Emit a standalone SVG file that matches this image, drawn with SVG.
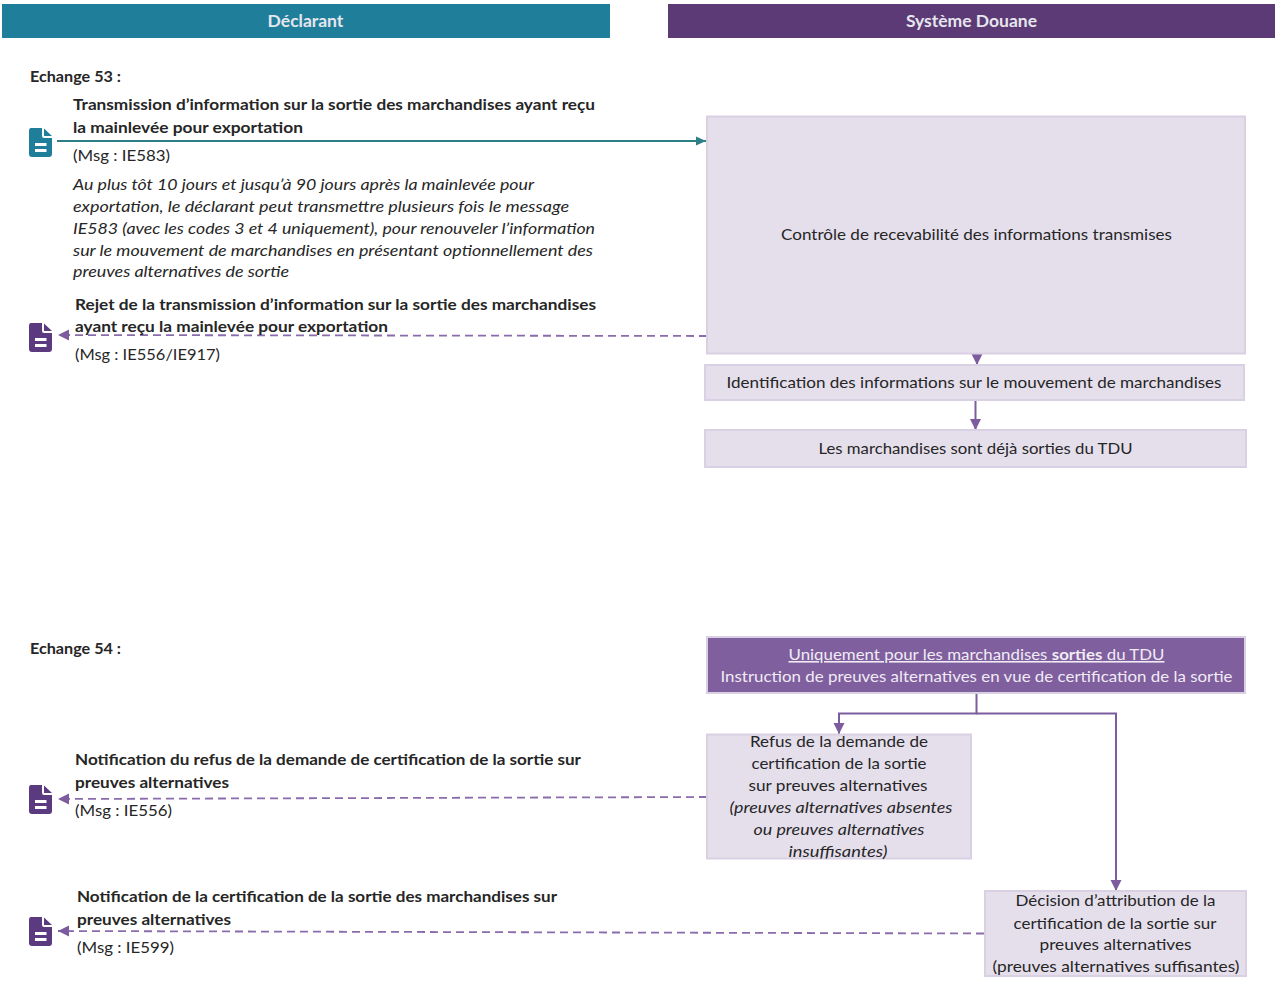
<svg xmlns="http://www.w3.org/2000/svg" width="1275" height="982" viewBox="0 0 1275 982">
<style>
text{font-family:Lato,"Open Sans","Liberation Sans",sans-serif;font-size:16px;fill:#262626}
.b{font-weight:700}
.i{font-style:italic}
.m{text-anchor:middle}
.h{font-size:17.500px;font-weight:700;fill:#e6e6ee;text-anchor:middle}
.w{fill:#f0ebf5;text-anchor:middle}
.box{fill:#e5dfec;stroke:#d9d0e4;stroke-width:2}
.sol{fill:none;stroke:#7c5c9e;stroke-width:2}
.dash{fill:none;stroke:#8a6bab;stroke-width:1.800;stroke-dasharray:8 5}
</style>
<defs>
<marker id="ap" markerUnits="userSpaceOnUse" markerWidth="14" markerHeight="14" refX="12" refY="7" orient="auto"><path d="M1 1.500L12 7L1 12.500Z" fill="#7c5c9e"/></marker>
<marker id="at" markerUnits="userSpaceOnUse" markerWidth="12" markerHeight="12" refX="11" refY="6" orient="auto"><path d="M1 1.500L11 6L1 10.500Z" fill="#2f7f86"/></marker>
<path id="doc" d="M2 0H13V8Q13 10 15 10H23V26Q23 29 20 29H3Q0 29 0 26V3Q0 0 2 0ZM6 15V18H17.500V15ZM6 21V24H17.500V21ZM15 0.500L23 8H15Z" fill-rule="evenodd"/>
</defs>
<g id="connectors">
<path d="M57 141H706" fill="none" stroke="#2f7f86" stroke-width="1.800" marker-end="url(#at)"/>
<path class="dash" d="M707 336L58 335" marker-end="url(#ap)"/>
<path class="sol" d="M977 354V365" marker-end="url(#ap)"/>
<path class="sol" d="M975.500 400V430" marker-end="url(#ap)"/>
<path class="sol" d="M976.500 693V713.500H839V734" marker-end="url(#ap)"/>
<path class="sol" d="M976.500 713.500H1116V891" marker-end="url(#ap)"/>
<path class="dash" d="M707 797L58 799" marker-end="url(#ap)"/>
<path class="dash" d="M984 933.500L58 931" marker-end="url(#ap)"/>
</g>
<g id="header-declarant"><rect x="2" y="4" width="608" height="34" fill="#1f7f9b"/><text class="h" x="305.500" y="26.500">Déclarant</text></g>
<g id="header-douane"><rect x="668" y="4" width="607" height="34" fill="#5b3a75"/><text class="h" x="971.500" y="26.500">Système Douane</text></g>
<g id="echange53">
<text class="b" x="30" y="82" textLength="91" lengthAdjust="spacingAndGlyphs">Echange 53 :</text>
</g>
<g id="msg-ie583">
<use href="#doc" x="29" y="128" fill="#1f7f9b"/>
<text class="b" x="73" y="110" textLength="522" lengthAdjust="spacingAndGlyphs">Transmission d’information sur la sortie des marchandises ayant reçu</text>
<text class="b" x="73" y="133" textLength="230" lengthAdjust="spacingAndGlyphs">la mainlevée pour exportation</text>
<text x="73" y="161" textLength="97" lengthAdjust="spacingAndGlyphs">(Msg : IE583)</text>
<text class="i" x="73" y="190" textLength="461" lengthAdjust="spacingAndGlyphs">Au plus tôt 10 jours et jusqu’à 90 jours après la mainlevée pour</text>
<text class="i" x="73" y="212" textLength="496" lengthAdjust="spacingAndGlyphs">exportation, le déclarant peut transmettre plusieurs fois le message</text>
<text class="i" x="73" y="234" textLength="522" lengthAdjust="spacingAndGlyphs">IE583 (avec les codes 3 et 4 uniquement), pour renouveler l’information</text>
<text class="i" x="73" y="256" textLength="520" lengthAdjust="spacingAndGlyphs">sur le mouvement de marchandises en présentant optionnellement des</text>
<text class="i" x="73" y="277" textLength="216" lengthAdjust="spacingAndGlyphs">preuves alternatives de sortie</text>
</g>
<g id="msg-ie556-917">
<use href="#doc" x="29" y="323" fill="#5b3a7f"/>
<text class="b" x="75" y="310" textLength="521" lengthAdjust="spacingAndGlyphs">Rejet de la transmission d’information sur la sortie des marchandises</text>
<text class="b" x="75" y="332" textLength="313" lengthAdjust="spacingAndGlyphs">ayant reçu la mainlevée pour exportation</text>
<text x="75" y="360" textLength="145" lengthAdjust="spacingAndGlyphs">(Msg : IE556/IE917)</text>
</g>
<g id="controle"><rect class="box" x="707" y="116.500" width="538" height="237"/><text class="m" x="976.500" y="240" textLength="391" lengthAdjust="spacingAndGlyphs">Contrôle de recevabilité des informations transmises</text></g>
<g id="identification"><rect class="box" x="705" y="365" width="539" height="35"/><text class="m" x="974" y="388" textLength="495" lengthAdjust="spacingAndGlyphs">Identification des informations sur le mouvement de marchandises</text></g>
<g id="sorties"><rect class="box" x="705" y="430" width="541" height="37"/><text class="m" x="975.500" y="454" textLength="314" lengthAdjust="spacingAndGlyphs">Les marchandises sont déjà sorties du TDU</text></g>
<g id="echange54">
<text class="b" x="30" y="654" textLength="91" lengthAdjust="spacingAndGlyphs">Echange 54 :</text>
</g>
<g id="instruction"><rect x="707" y="637" width="538" height="56" fill="#7f5f9d" stroke="#d9d0e4" stroke-width="2"/>
<text class="w" x="976.500" y="660" text-decoration="underline" textLength="376" lengthAdjust="spacingAndGlyphs">Uniquement pour les marchandises <tspan class="b">sorties</tspan> du TDU</text>
<text class="w" x="976.500" y="682" textLength="512" lengthAdjust="spacingAndGlyphs">Instruction de preuves alternatives en vue de certification de la sortie</text></g>
<g id="refus"><rect class="box" x="707" y="734.500" width="264" height="124"/>
<text class="m" x="839" y="747" textLength="178" lengthAdjust="spacingAndGlyphs">Refus de la demande de</text>
<text class="m" x="839" y="769" textLength="175" lengthAdjust="spacingAndGlyphs">certification de la sortie</text>
<text class="m" x="838" y="791" textLength="179" lengthAdjust="spacingAndGlyphs">sur preuves alternatives</text>
<text class="m i" x="841" y="813" textLength="223" lengthAdjust="spacingAndGlyphs">(preuves alternatives absentes</text>
<text class="m i" x="839" y="835" textLength="171" lengthAdjust="spacingAndGlyphs">ou preuves alternatives</text>
<text class="m i" x="838" y="857" textLength="99" lengthAdjust="spacingAndGlyphs">insuffisantes)</text></g>
<g id="msg-ie556">
<use href="#doc" x="29" y="785" fill="#5b3a7f"/>
<text class="b" x="75" y="765" textLength="506" lengthAdjust="spacingAndGlyphs">Notification du refus de la demande de certification de la sortie sur</text>
<text class="b" x="75" y="788" textLength="154" lengthAdjust="spacingAndGlyphs">preuves alternatives</text>
<text x="75" y="816" textLength="97" lengthAdjust="spacingAndGlyphs">(Msg : IE556)</text>
</g>
<g id="msg-ie599">
<use href="#doc" x="29" y="917" fill="#5b3a7f"/>
<text class="b" x="77" y="902" textLength="480" lengthAdjust="spacingAndGlyphs">Notification de la certification de la sortie des marchandises sur</text>
<text class="b" x="77" y="925" textLength="154" lengthAdjust="spacingAndGlyphs">preuves alternatives</text>
<text x="77" y="953" textLength="97" lengthAdjust="spacingAndGlyphs">(Msg : IE599)</text>
</g>
<g id="decision"><rect class="box" x="985" y="891" width="261" height="85"/>
<text class="m" x="1115.500" y="906" textLength="200" lengthAdjust="spacingAndGlyphs">Décision d’attribution de la</text>
<text class="m" x="1115" y="929" textLength="203" lengthAdjust="spacingAndGlyphs">certification de la sortie sur</text>
<text class="m" x="1115.500" y="950" textLength="152" lengthAdjust="spacingAndGlyphs">preuves alternatives</text>
<text class="m" x="1116" y="972" textLength="247" lengthAdjust="spacingAndGlyphs">(preuves alternatives suffisantes)</text></g>
</svg>
